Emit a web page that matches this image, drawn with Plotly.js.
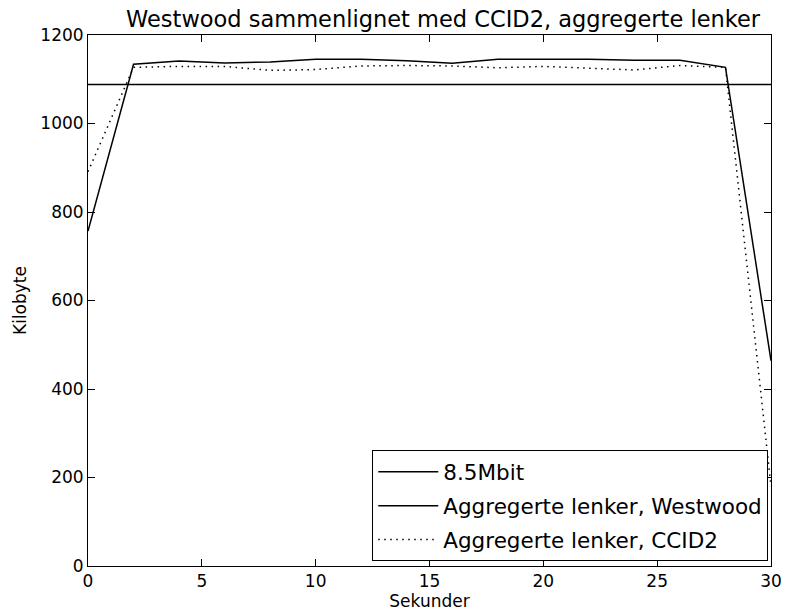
<!DOCTYPE html>
<html>
<head>
<meta charset="utf-8">
<script src="https://cdn.plot.ly/plotly-3.0.1.min.js"></script>
<style>html,body{margin:0;padding:0;background:#fff;}#chart{width:787px;height:612px;}</style>
</head>
<body>
<div id="chart"></div>
<script>
const seconds = [0, 2, 4, 6, 8, 10, 12, 14, 16, 18, 20, 22, 24, 26, 28, 30];
const westwood = [757, 1134, 1141, 1137, 1139, 1145, 1145, 1142, 1136, 1145, 1145, 1145, 1143, 1143, 1127, 464];
const ccid2 = [891, 1127, 1129, 1129, 1120, 1122, 1130, 1131, 1130, 1126, 1129, 1125, 1121, 1131, 1127, 180];
const linkX = [0, 30];
const linkY = [1088, 1088];
const names = ["8.5Mbit", "Aggregerte lenker, Westwood", "Aggregerte lenker, CCID2"];
const xTicks = [0, 5, 10, 15, 20, 25, 30];
const yTicks = [0, 200, 400, 600, 800, 1000, 1200];

const font = "DejaVu Sans, sans-serif";
const traces = [
  {x: linkX, y: linkY, mode: "lines", name: names[0], legendgroup: "a",
   line: {color: "black", width: 1.5}},
  {x: seconds, y: westwood, mode: "lines", name: names[1], legendgroup: "b",
   line: {color: "black", width: 1.5}},
  {x: seconds, y: ccid2, mode: "lines", name: names[2], legendgroup: "c",
   line: {color: "black", width: 1.5, dash: "1.5px,4.5px"}}
];
const axisCommon = {
  showline: true, mirror: "ticks", linecolor: "black", linewidth: 1,
  ticks: "inside", ticklen: 7, tickcolor: "black", tickwidth: 1,
  showgrid: false, zeroline: false,
  tickfont: {family: font, size: 17, color: "black"}
};
const layout = {
  width: 787, height: 612,
  margin: {l: 88, r: 16, t: 35, b: 46},
  paper_bgcolor: "white", plot_bgcolor: "white",
  title: {text: "Westwood sammenlignet med CCID2, aggregerte lenker",
          font: {family: font, size: 22.5, color: "black"},
          x: 0.563, xanchor: "center", y: 0.968, yanchor: "middle"},
  xaxis: Object.assign({}, axisCommon, {
    range: [0, 30], tickvals: xTicks, ticktext: xTicks.map(String),
    title: {text: "Sekunder", font: {family: font, size: 17, color: "black"}, standoff: 0}
  }),
  yaxis: Object.assign({}, axisCommon, {
    range: [0, 1200], tickvals: yTicks, ticktext: yTicks.map(String),
    title: {text: "Kilobyte", font: {family: font, size: 17, color: "black"}, standoff: 9}
  }),
  showlegend: true,
  legend: {
    x: 0.996, xanchor: "right", y: 0.009, yanchor: "bottom",
    bordercolor: "black", borderwidth: 1, bgcolor: "white",
    font: {family: font, size: 21.5, color: "black"},
    traceorder: "grouped", tracegroupgap: 3, itemwidth: 60
  }
};
Plotly.newPlot("chart", traces, layout, {displayModeBar: false});
</script>
</body>
</html>
